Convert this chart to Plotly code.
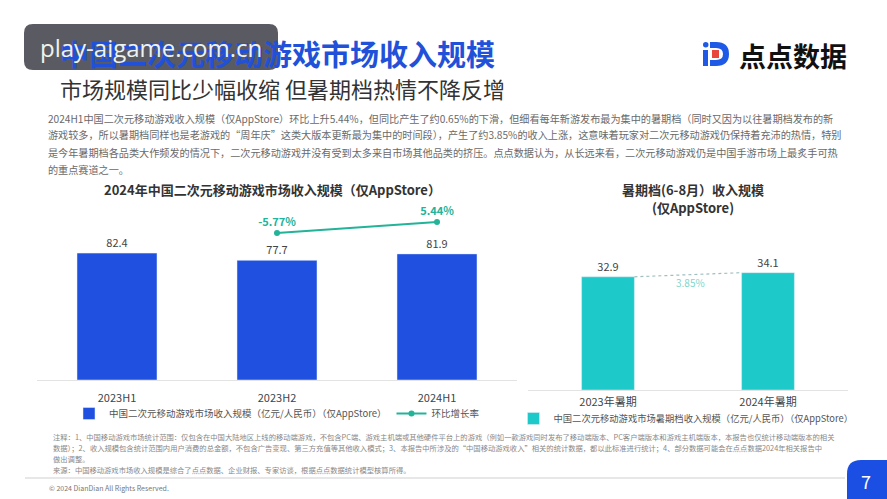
import plotly.graph_objects as go

W, H = 887, 499
def px(x): return x / W
def py(y): return 1 - y / H

# ---------------- data ----------------
half_years = ["2023H1", "2023H2", "2024H1"]
revenue = [82.4, 77.7, 81.9]
qoq_periods = ["2023H2", "2024H1"]
qoq_growth = [-5.77, 5.44]

summer_labels = ["2023年暑期", "2024年暑期"]
summer_revenue = [32.9, 34.1]
summer_growth_label = "3.85%"

FONT = "Noto Sans CJK SC, Noto Sans, sans-serif"
BLUE = "#1f50e0"
TEAL_BAR = "#1ec9c9"
TEAL_LINE = "#22b398"

fig = go.Figure()

# left chart bars
fig.add_trace(go.Bar(
    x=half_years, y=revenue, name="中国二次元移动游戏市场收入规模（亿元/人民币）（仅AppStore）",
    marker_color=BLUE, text=[f"{v:.1f}" for v in revenue], textposition="outside",
    textfont=dict(size=11, color="#444"), cliponaxis=False,
    xaxis="x", yaxis="y", legend="legend"))
# left chart growth line
fig.add_trace(go.Scatter(
    x=qoq_periods, y=qoq_growth, name="环比增长率", mode="lines+markers+text",
    line=dict(color=TEAL_LINE, width=2), marker=dict(size=6, color=TEAL_LINE),
    text=[f"{v:.2f}%" for v in qoq_growth], textposition="top center",
    textfont=dict(size=11, color=TEAL_LINE, family=FONT, weight="bold"), cliponaxis=False,
    xaxis="x", yaxis="y2", legend="legend"))

# right chart bars
sx = list(range(len(summer_labels)))
bw = 0.33
fig.add_trace(go.Bar(
    x=sx, y=summer_revenue, width=bw,
    name="中国二次元移动游戏市场暑期档收入规模（亿元/人民币）（仅AppStore）",
    marker_color=TEAL_BAR, text=[f"{v:.1f}" for v in summer_revenue], textposition="outside",
    textfont=dict(size=11, color="#444"), cliponaxis=False,
    xaxis="x3", yaxis="y3", legend="legend2"))
fig.add_trace(go.Scatter(
    x=[sx[0] + bw / 2, sx[1] - bw / 2], y=summer_revenue, mode="lines",
    line=dict(color="#9fbfbf", width=1.2, dash="dot"), showlegend=False,
    hoverinfo="skip", xaxis="x3", yaxis="y3", cliponaxis=False))

fig.update_layout(
    width=W, height=H, margin=dict(l=0, r=0, t=0, b=0),
    paper_bgcolor="white", plot_bgcolor="rgba(0,0,0,0)",
    font=dict(family=FONT, color="#444"),
    bargap=0.5,
    xaxis=dict(domain=[px(37), px(517)], type="category", range=[-0.5, 2.5],
               showline=True, linecolor="#e3e3e3", linewidth=1, showgrid=False,
               ticks="", tickfont=dict(size=11, color="#444"), ticklabelstandoff=8, anchor="y"),
    yaxis=dict(domain=[py(380), py(200)], range=[0, 116.9], visible=False, anchor="x"),
    yaxis2=dict(domain=[py(380), py(200)], range=[-155.6, 27.9], visible=False,
                overlaying="y", anchor="x"),
    xaxis3=dict(domain=[px(528), px(848)], range=[-0.5, 1.5], tickvals=sx, ticktext=summer_labels,
                showline=True, linecolor="#e3e3e3", linewidth=1, showgrid=False, zeroline=False,
                ticks="", tickfont=dict(size=11, color="#444"), ticklabelstandoff=2, anchor="y3"),
    yaxis3=dict(domain=[py(390), py(240)], range=[0, 43.6], visible=False, anchor="x3"),
    legend=dict(orientation="h", x=px(277), xanchor="center", y=py(399), yanchor="top",
                font=dict(size=9.5, color="#555"), bgcolor="rgba(0,0,0,0)", itemwidth=30,
                tracegroupgap=0),
    legend2=dict(orientation="h", x=px(686), xanchor="center", y=py(404), yanchor="top",
                 font=dict(size=9.3, color="#555"), bgcolor="rgba(0,0,0,0)", itemwidth=30),
)

ann = []
def text(x, y, s, size, color="#444", xanchor="left", bold=False, family=FONT):
    ann.append(dict(x=px(x), y=py(y), xref="paper", yref="paper", text=s, showarrow=False,
                    xanchor=xanchor, yanchor="middle",
                    font=dict(size=size, color=color, family=family, weight="bold" if bold else "normal")))

# header
text(58, 53, "中国二次元移动游戏市场收入规模", 29, "#2251d9", bold=True)
text(58, 88, "市场规模同比少幅收缩 但暑期档热情不降反增", 22, "#333")
text(737, 55, "点点数据", 27, "#111", bold=True)

para = [
    "2024H1中国二次元移动游戏收入规模（仅AppStore）环比上升5.44%，但同比产生了约0.65%的下滑，但细看每年新游发布最为集中的暑期档（同时又因为以往暑期档发布的新",
    "游戏较多，所以暑期档同样也是老游戏的“周年庆”这类大版本更新最为集中的时间段），产生了约3.85%的收入上涨，这意味着玩家对二次元移动游戏仍保持着充沛的热情，特别",
    "是今年暑期档各品类大作频发的情况下，二次元移动游戏并没有受到太多来自市场其他品类的挤压。点点数据认为，从长远来看，二次元移动游戏仍是中国手游市场上最炙手可热",
    "的重点赛道之一。",
]
for i, line in enumerate(para):
    text(46, 118 + i * 17, line, 10.15, "#6a6a6a")

# chart titles
text(272, 190, "2024年中国二次元移动游戏市场收入规模（仅AppStore）", 13, "#333", xanchor="center", bold=True)
text(693, 190, "暑期档(6-8月）收入规模", 13, "#333", xanchor="center", bold=True)
text(693, 207, "(仅AppStore)", 13, "#333", xanchor="center", bold=True)
text(690, 282, summer_growth_label, 10, "#7fd6cb", xanchor="center")

notes = [
    "注释：1、中国移动游戏市场统计范围：仅包含在中国大陆地区上线的移动端游戏，不包含PC端、游戏主机端或其他硬件平台上的游戏（例如一款游戏同时发布了移动端版本、PC客户端版本和游戏主机端版本，本报告也仅统计移动端版本的相关",
    "数据）；2、收入规模包含统计范围内用户消费的总金额，不包含广告变现、第三方充值等其他收入模式；3、本报告中所涉及的“中国移动游戏收入”相关的统计数据，都以此标准进行统计；4、部分数据可能会在点点数据2024年相关报告中",
    "做出调整。",
    "来源：中国移动游戏市场收入规模是综合了点点数据、企业财报、专家访谈，根据点点数据统计模型核算所得。",
]
for i, line in enumerate(notes):
    text(51, 437 + i * 11, line, 7.3, "#888")
text(47, 488, "© 2024 DianDian All Rights Reserved.", 7, "#777")

# watermark
text(151, 48, "play-aigame.com.cn", 24, "#eef2ee", xanchor="center", family="Open Sans, sans-serif")
# page number
text(866, 481, "7", 18, "white", xanchor="center")

fig.update_layout(annotations=ann)

def pt(x, y):
    return f"{px(x):.5f},{py(y):.5f}"

shapes = []
# watermark box (rounded)
x0, y0, x1, y1, r = 24, 24, 278, 70, 9
shapes.append(dict(type="path", xref="paper", yref="paper", layer="below",
    path=f"M {pt(x0+r,y0)} L {pt(x1-r,y0)} Q {pt(x1,y0)} {pt(x1,y0+r)} L {pt(x1,y1-r)} Q {pt(x1,y1)} {pt(x1-r,y1)} "
         f"L {pt(x0+r,y1)} Q {pt(x0,y1)} {pt(x0,y1-r)} L {pt(x0,y0+r)} Q {pt(x0,y0)} {pt(x0+r,y0)} Z",
    fillcolor="rgba(78,79,86,0.93)", line=dict(width=0)))
# page number box
x0, y0, x1, y1, r = 847, 460, 887, 499, 14
shapes.append(dict(type="path", xref="paper", yref="paper", layer="below",
    path=f"M {pt(x0+r,y0)} L {pt(x1,y0)} L {pt(x1,y1)} L {pt(x0,y1)} L {pt(x0,y0+r)} Q {pt(x0,y0)} {pt(x0+r,y0)} Z",
    fillcolor="#1b4fe3", line=dict(width=0)))
# footer rule
shapes.append(dict(type="line", xref="paper", yref="paper", x0=px(25), x1=px(845), y0=py(478), y1=py(478),
                   line=dict(color="#cfcfcf", width=1)))
# logo icon
shapes.append(dict(type="rect", xref="paper", yref="paper", x0=px(703), x1=px(708), y0=py(66), y1=py(50),
                   fillcolor="#1f5ae6", line=dict(width=0)))
shapes.append(dict(type="circle", xref="paper", yref="paper", x0=px(703), x1=px(708.5), y0=py(47.5), y1=py(42),
                   fillcolor="#1f5ae6", line=dict(width=0)))
shapes.append(dict(type="path", xref="paper", yref="paper",
    path=f"M {pt(710,42)} L {pt(716,42)} Q {pt(729,42)} {pt(729,54)} Q {pt(729,66)} {pt(716,66)} L {pt(710,66)} L {pt(710,60)} "
         f"L {pt(716,60)} Q {pt(723,60)} {pt(723,54)} Q {pt(723,48)} {pt(716,48)} L {pt(710,48)} Z",
    fillcolor="#1f5ae6", line=dict(width=0)))
shapes.append(dict(type="rect", xref="paper", yref="paper", x0=px(712), x1=px(719), y0=py(58), y1=py(50),
                   fillcolor="#e8453c", line=dict(width=0)))
fig.update_layout(shapes=shapes)

fig.write_html("out.html")
